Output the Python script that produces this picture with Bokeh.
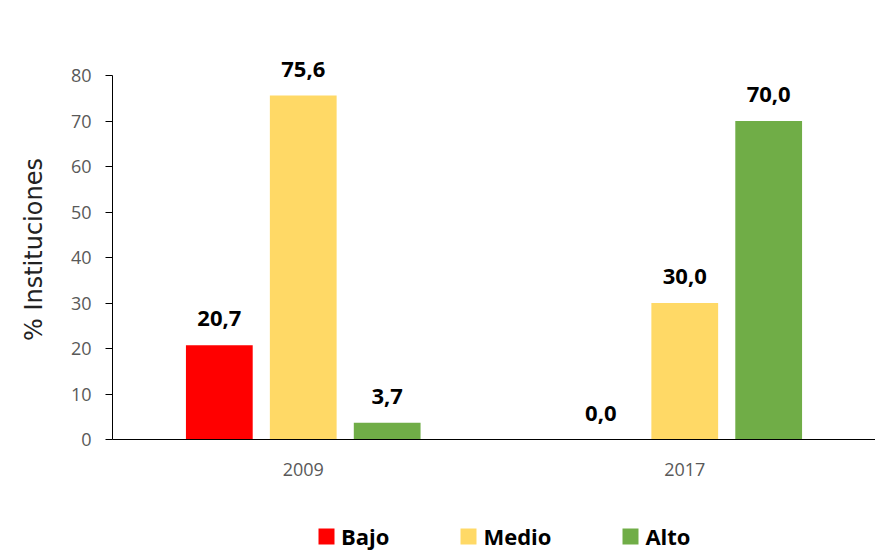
from bokeh.plotting import figure
from bokeh.models import ColumnDataSource, FactorRange, Range1d, Legend, LegendItem, FixedTicker
from bokeh.transform import dodge
from bokeh.layouts import column
from bokeh.embed import file_html
from bokeh.resources import INLINE
from bokeh.core.properties import value

years = ["2009", "2017"]
levels = ["Bajo", "Medio", "Alto"]
bajo = [20.7, 0.0]
medio = [75.6, 30.0]
alto = [3.7, 70.0]
colors = ["#FF0000", "#FFD966", "#70AD47"]
y_ticks = [0, 10, 20, 30, 40, 50, 60, 70, 80]

src = ColumnDataSource(data=dict(
    year=years, Bajo=bajo, Medio=medio, Alto=alto,
    Bajo_lbl=[f"{v:.1f}".replace(".", ",") for v in bajo],
    Medio_lbl=[f"{v:.1f}".replace(".", ",") for v in medio],
    Alto_lbl=[f"{v:.1f}".replace(".", ",") for v in alto],
))

xr = FactorRange(*years, range_padding=0)
p = figure(width=875, height=510, x_range=xr,
           y_range=Range1d(0, 91.87), output_backend="svg", toolbar_location=None,
           min_border_left=112, min_border_right=0, min_border_top=21, min_border_bottom=71)

FONT = "Open Sans"
offsets = [-0.22, 0.0, 0.22]
for lvl, off, col in zip(levels, offsets, colors):
    p.vbar(x=dodge("year", off, range=xr), top=lvl, width=0.175, source=src,
           fill_color=col, line_color=None)
    p.text(x=dodge("year", off, range=xr), y=lvl, text=lvl + "_lbl", source=src,
           text_align="center", text_baseline="bottom", y_offset=-19,
           text_font=value(FONT), text_font_size="22px", text_font_style="bold",
           text_color="#000000")

p.xgrid.visible = False
p.ygrid.visible = False
p.outline_line_color = None
p.background_fill_color = "white"

p.yaxis.bounds = (0, 80)
p.yaxis.ticker = FixedTicker(ticks=y_ticks)
p.yaxis.major_tick_out = 7
p.yaxis.major_tick_in = 0
p.yaxis.minor_tick_line_color = None
p.yaxis.axis_line_color = "black"
p.yaxis.major_tick_line_color = "black"
p.yaxis.major_label_text_font = FONT
p.yaxis.major_label_text_font_size = "18px"
p.yaxis.major_label_text_color = "#595959"
p.yaxis.major_label_standoff = 14
p.yaxis.axis_label = "% Instituciones" + "\u00a0" * 5
p.yaxis.axis_label_text_font = "DejaVu Sans"
p.yaxis.axis_label_text_font_size = "24px"
p.yaxis.axis_label_text_font_style = "normal"
p.yaxis.axis_label_text_color = "#222222"
p.yaxis.axis_label_standoff = 20

p.xaxis.major_tick_line_color = None
p.xaxis.minor_tick_line_color = None
p.xaxis.axis_line_color = "black"
p.xaxis.major_label_text_font = FONT
p.xaxis.major_label_text_font_size = "18px"
p.xaxis.major_label_text_color = "#595959"
p.xaxis.major_label_standoff = 17

# legend strip below the chart (its bars lie outside its visible y range)
lg = figure(width=875, height=41, x_range=xr, y_range=Range1d(200, 201),
            output_backend="svg", toolbar_location=None,
            x_axis_location=None, y_axis_location=None,
            min_border_left=0, min_border_right=0, min_border_top=0, min_border_bottom=0)
lg.xgrid.visible = False
lg.ygrid.visible = False
lg.outline_line_color = None
items = []
for lvl, off, col in zip(levels, offsets, colors):
    r = lg.vbar(x=dodge("year", off, range=xr), top=lvl, width=0.175, source=src,
                fill_color=col, line_color=None)
    items.append(LegendItem(label=lvl, renderers=[r]))

legend = Legend(items=items, orientation="horizontal", location=(204, 0),
                glyph_width=20, glyph_height=20, label_standoff=5, spacing=69,
                padding=0, margin=0, border_line_alpha=0, background_fill_alpha=0,
                label_text_font=FONT, label_text_font_size="22px", label_text_font_style="bold",
                label_text_color="#000000", label_height=30)
lg.add_layout(legend, "center")

layout = column(p, lg, spacing=0)
open("out.html", "w").write(file_html(layout, INLINE))
